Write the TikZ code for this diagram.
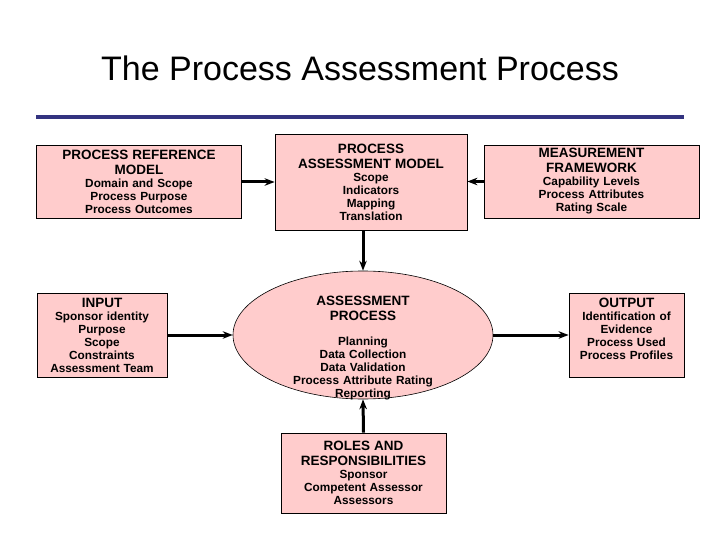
\documentclass[tikz,border=0pt]{standalone}
\usepackage{fontspec}
\setmainfont{Liberation Sans}
\usepackage{xcolor}
\usetikzlibrary{arrows.meta, positioning, shapes.geometric}

\definecolor{boxpink}{RGB}{255,204,204}
\definecolor{rulenavy}{RGB}{51,51,128}
\newcommand\headfont{\fontsize{13.5}{15}\selectfont}
\newcommand\itemfont{\fontsize{11.8}{13}\selectfont\lineskiplimit=-20pt\relax}

\begin{document}
\begin{tikzpicture}[
  x=1pt, y=-1pt,
  block/.style={
    rectangle,
    draw,
    line width=0.8pt,
    fill=boxpink,
    align=center,
    inner sep=0pt,
    font=\bfseries\itemfont
  },
  arrow/.style={-{Stealth[length=10pt, width=7.5pt]}, line width=3pt}
]
  \useasboundingbox (0,0) rectangle (720,540);

  % Title
  \node (T) at (360,68) {\fontsize{34}{38}\selectfont The Process Assessment Process};
  \draw [rulenavy, line width=4pt] (36,117) -- (684,117);

  % Nodes
  \node (PRM) [block, text width=200, minimum width=205, minimum height=73] at (139,182)
    {\headfont PROCESS REFERENCE\\MODEL\\\itemfont Domain and Scope\\Process Purpose\\Process Outcomes};
  \node (PAM) [block, text width=188, minimum width=192, minimum height=96] at (371,182)
    {\headfont PROCESS\\ASSESSMENT MODEL\\\itemfont Scope\\Indicators\\Mapping\\Translation};
  \node (MF) [block, text width=210, minimum width=215, minimum height=73] at (591.5,181.5)
    {\headfont MEASUREMENT\\FRAMEWORK\\\itemfont Capability Levels\\Process Attributes\\Rating Scale};

  \node (IN) [block, text width=126, minimum width=130, minimum height=84] at (102,335)
    {\headfont INPUT\\\itemfont Sponsor identity\\Purpose\\Scope\\Constraints\\Assessment Team};
  \node (AP) [ellipse, draw, line width=0.6pt, fill=boxpink,
    minimum width=260, minimum height=128] at (363,335) {};
  \node (APtext) [align=center, inner sep=0pt, text width=250,
    font=\bfseries\itemfont] at (363,348.5)
    {\headfont ASSESSMENT\\PROCESS\\[12pt]\itemfont Planning\\Data Collection\\Data Validation\\Process Attribute Rating\\Reporting};
  \node (OUT) [block, text width=111, minimum width=115, minimum height=84] at (626.5,335)
    {\headfont OUTPUT\\\itemfont Identification of\\Evidence\\Process Used\\Process Profiles\\[-1pt]\mbox{}};

  \node (RR) [block, text width=161, minimum width=165, minimum height=80] at (363.5,473)
    {\headfont ROLES AND\\RESPONSIBILITIES\\\itemfont Sponsor\\Competent Assessor\\Assessors};

  % Arrows
  \draw [arrow] (PRM.east) -- (PAM.west);
  \draw [arrow] (MF.west) -- (PAM.east |- MF.west);
  \draw [arrow] (AP.north |- PAM.south) -- (AP.north);
  \draw [arrow] (IN.east) -- (AP.west);
  \draw [arrow] (AP.east) -- (OUT.west);
  \draw [arrow] (RR.north) -- (AP.south);

\end{tikzpicture}
\end{document}
